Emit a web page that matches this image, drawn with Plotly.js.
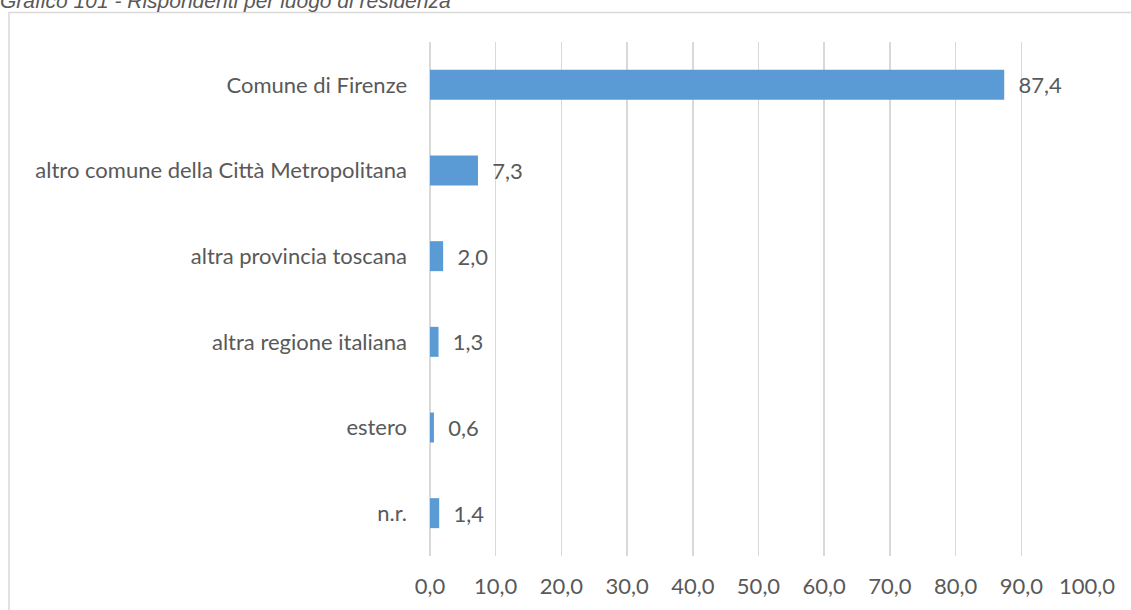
<!DOCTYPE html>
<html><head><meta charset="utf-8">
<script src="https://cdn.plot.ly/plotly-3.0.1.min.js"></script>
<style>html,body{margin:0;padding:0;background:#fff;}#chart{width:1131px;height:610px;}</style>
</head><body><div id="chart"></div>
<script>
const categories = ["Comune di Firenze","altro comune della Città Metropolitana","altra provincia toscana","altra regione italiana","estero","n.r."];
const values = [87.4, 7.3, 2.0, 1.3, 0.6, 1.4];
const xTicks = [0,10,20,30,40,50,60,70,80,90,100];
const chartTitle = "Grafico 101 - Rispondenti per luogo di residenza";

const font = "Lato, Noto Sans, sans-serif";
const textColor = "#595959";
const fs = 22;

const trace = {
  type: "bar",
  orientation: "h",
  y: categories,
  x: values,
  marker: {color: "#5b9bd5"},
  width: 0.35,
  text: values.map(v => "  " + v.toFixed(1).replace(".", ",")),
  textposition: "outside",
  cliponaxis: false,
  textfont: {family: font, size: fs, color: textColor},
  hoverinfo: "skip"
};

const layout = {
  width: 1131, height: 610,
  margin: {l: 430, r: 44, t: 42, b: 54},
  paper_bgcolor: "#fff", plot_bgcolor: "#fff",
  separators: ",.",
  showlegend: false,
  font: {family: font, color: textColor, size: fs},
  xaxis: {
    range: [0, 100], tickvals: xTicks, tickformat: ".1f",
    showgrid: true, gridcolor: "#d9d9d9", gridwidth: 1.5,
    zeroline: true, zerolinecolor: "#d9d9d9", zerolinewidth: 1.5,
    showline: false, ticks: "",
    ticklabelstandoff: 15,
    tickfont: {family: font, size: fs, color: textColor}
  },
  yaxis: {
    autorange: "reversed", showgrid: false, zeroline: false, showline: false, ticks: "",
    ticklabelstandoff: 22,
    tickfont: {family: font, size: fs, color: textColor}
  },
  shapes: [{
    type: "rect", xref: "paper", yref: "paper",
    x0: -421/657, x1: (1140-430)/657,
    y0: -80/514, y1: (514 + 42 - 12.5)/514,
    line: {color: "#d9d9d9", width: 1.5}, fillcolor: "rgba(0,0,0,0)"
  }],
  annotations: [{
    text: "<i>" + chartTitle + "</i>",
    xref: "paper", yref: "paper",
    x: -432/657, xanchor: "left",
    y: (514 + 42 - 0)/514, yanchor: "middle",
    showarrow: false,
    font: {family: "Liberation Sans, Arial, sans-serif", size: 21, color: textColor}
  }]
};

Plotly.newPlot("chart", [trace], layout, {displayModeBar: false, staticPlot: true});
</script></body></html>
